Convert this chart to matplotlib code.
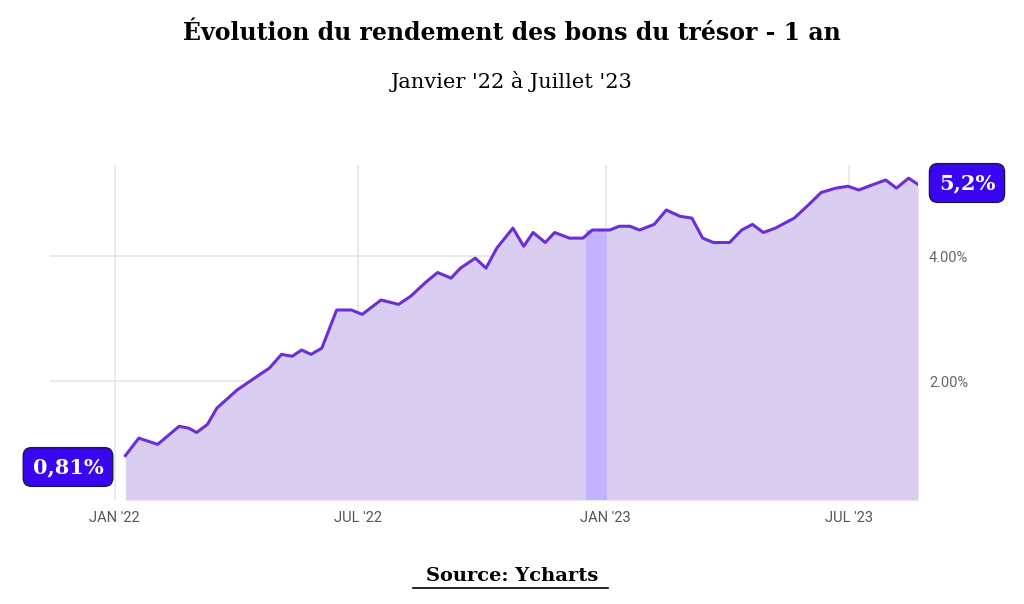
import numpy as np
import pandas as pd
import matplotlib.pyplot as plt
import matplotlib.dates as mdates
from matplotlib.lines import Line2D

# jours depuis le 1er janvier 2022 et rendement (%)
jours = [8, 18, 32, 48, 55, 61, 69, 76, 91, 106, 115, 124, 132, 139, 146, 154,
         165, 176, 184, 198, 211, 220, 231, 240, 250, 257, 268, 276, 284, 296,
         304, 311, 320, 327, 338, 348, 355, 368, 375, 383, 390, 401, 410, 420,
         429, 437, 445, 457, 466, 474, 482, 491, 505, 516, 525, 536, 545, 553,
         564, 573, 581, 590, 597]
rendement = [0.81, 1.09, 0.99, 1.28, 1.25, 1.18, 1.31, 1.57, 1.86, 2.08, 2.21,
             2.43, 2.40, 2.50, 2.43, 2.53, 3.14, 3.14, 3.07, 3.30, 3.23, 3.36,
             3.58, 3.74, 3.65, 3.81, 3.97, 3.81, 4.13, 4.45, 4.16, 4.38, 4.22,
             4.38, 4.29, 4.29, 4.42, 4.42, 4.48, 4.48, 4.42, 4.51, 4.74, 4.64,
             4.61, 4.29, 4.22, 4.22, 4.42, 4.51, 4.38, 4.45, 4.61, 4.83, 5.02,
             5.09, 5.12, 5.06, 5.15, 5.22, 5.09, 5.25, 5.15]
ticks_x = ['2022-01-01', '2022-07-01', '2023-01-01', '2023-07-01']
labels_x = ["JAN '22", "JUL '22", "JAN '23", "JUL '23"]
ticks_y = [2, 4]
labels_y = ['2.00%', '4.00%']

dates = pd.Timestamp('2022-01-01') + pd.to_timedelta(jours, unit='D')

fig = plt.figure(figsize=(10.24, 6.04), dpi=100)
ax = fig.add_axes([50/1024, 104/604, 868/1024, 335/604])

ymin = 0.1
ax.fill_between(dates, rendement, ymin, color='#d9cdf1', lw=0)
# bande surlignée autour de janvier '23
band = (dates >= pd.Timestamp('2022-12-16')) & (dates <= pd.Timestamp('2023-01-03'))
ax.axvspan(pd.Timestamp('2022-12-17'), pd.Timestamp('2023-01-02'),
           ymax=(4.42 - ymin) / (5.46 - ymin), color='#c3b3ff', lw=0)
ax.plot(dates, rendement, color='#6b2fd8', lw=2.2)

ax.set_xlim(pd.Timestamp('2021-11-14'), dates[-1])
ax.set_ylim(ymin, 5.46)
ax.set_xticks(pd.to_datetime(ticks_x))
ax.set_xticklabels(labels_x, family='Roboto', color='#555555', fontsize=10.5)
ax.yaxis.tick_right()
ax.set_yticks(ticks_y)
ax.set_yticklabels(labels_y, family='Roboto', color='#666666', fontsize=10.5)
ax.tick_params(length=0, pad=8)
ax.grid(True, color='#e6e6e6', lw=1.2)
ax.set_axisbelow(True)
for s in ax.spines.values():
    s.set_visible(False)

fig.text(0.5, 0.945, 'Évolution du rendement des bons du trésor - 1 an',
         ha='center', va='center', family='DejaVu Serif', weight='bold', fontsize=17)
fig.text(0.5, 0.865, "Janvier '22 à Juillet '23", ha='center', va='center',
         family='DejaVu Serif', fontsize=15)

box = dict(boxstyle='round,pad=0.45,rounding_size=0.4', fc='#3a05f0', ec='#1a1a40', lw=1)
fig.text(68/1024, 1 - 467/604, '0,81%', ha='center', va='center', color='white',
         family='DejaVu Serif', weight='bold', fontsize=15, bbox=box)
fig.text(967/1024, 1 - 183/604, '5,2%', ha='center', va='center', color='white',
         family='DejaVu Serif', weight='bold', fontsize=15, bbox=box)

fig.text(0.5, 1 - 576/604, 'Source: Ycharts', ha='center', va='center',
         family='DejaVu Serif', weight='bold', fontsize=14)
fig.add_artist(Line2D([413/1024, 608/1024], [1 - 588/604] * 2, color='black', lw=1.2))

fig.savefig('out.png', dpi=100)
